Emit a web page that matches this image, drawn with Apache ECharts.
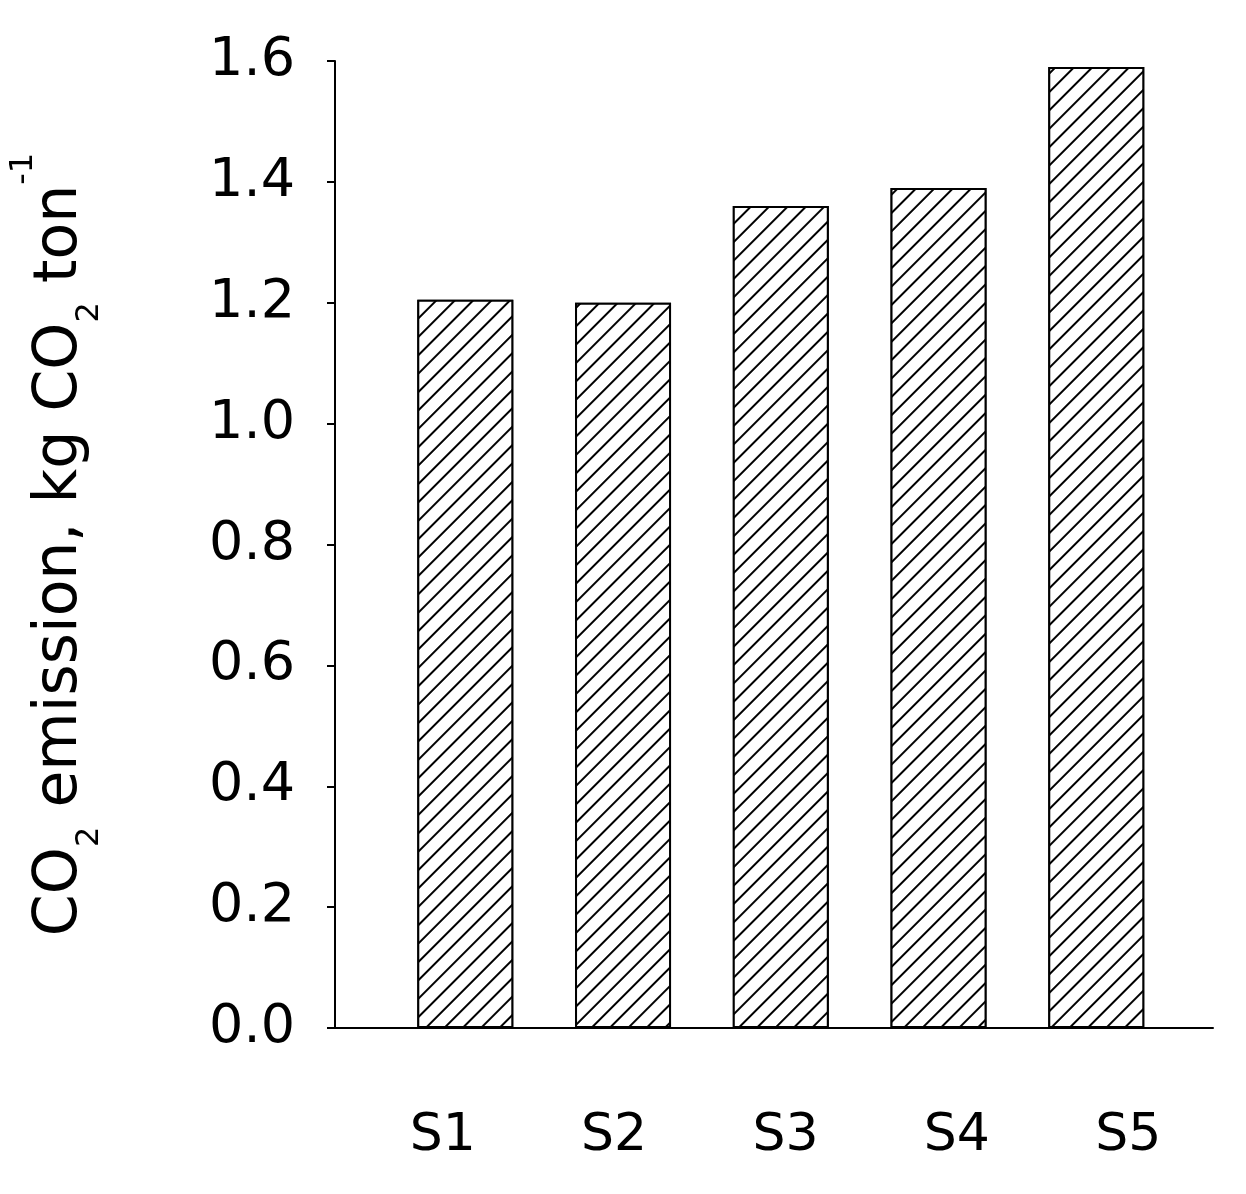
<!DOCTYPE html><html><head><meta charset="utf-8"><script src="https://cdn.jsdelivr.net/npm/echarts@6/dist/echarts.min.js"></script></head><body style="margin:0;background:#fff"><div id="c" style="width:1246px;height:1194px"></div><script>
const categories=['S1','S2','S3','S4','S5'];
const values=[1.205,1.20,1.36,1.39,1.59];
const yTicks=[0,0.2,0.4,0.6,0.8,1.0,1.2,1.4,1.6];
const ch=echarts.init(document.getElementById('c'));
const font='DejaVu Sans';
ch.setOption({
 animation:false,
 grid:[{left:316,right:33,top:61,bottom:166},{left:357,right:32,top:61,bottom:166}],
 xAxis:[{type:'value',gridIndex:0,min:0.174,max:5.74,axisLine:{show:true,lineStyle:{color:'#000',width:2}},axisTick:{show:false},axisLabel:{show:false},splitLine:{show:false}},
  {type:'category',gridIndex:1,data:categories,axisLine:{show:false},axisTick:{show:false},splitLine:{show:false},
   axisLabel:{margin:82,fontFamily:font,fontSize:52,color:'#000'}}],
 yAxis:[{type:'value',gridIndex:0,min:0,max:1.6,interval:0.2,
  axisLine:{show:true,lineStyle:{color:'#000',width:2}},axisTick:{show:true,length:8,lineStyle:{color:'#000',width:2}},
  splitLine:{show:false},
  axisLabel:{margin:40,fontFamily:font,fontSize:54,color:'#000',formatter:v=>v.toFixed(1)},
  name:'CO{sub|2} emission, kg CO{sub|2} ton{sup|-1}',nameLocation:'middle',nameRotate:90,nameGap:245,
  nameTextStyle:{fontFamily:font,fontSize:60,color:'#000',rich:{sub:{fontFamily:font,fontSize:32,color:'#000',verticalAlign:'bottom',padding:[0,0,-16,0]},sup:{fontFamily:font,fontSize:32,color:'#000',verticalAlign:'top',padding:[-22,0,0,0]}}}},
  {type:'value',gridIndex:1,min:0,max:1.6,show:false}],
 series:[{type:'bar',xAxisIndex:0,yAxisIndex:0,barWidth:96,data:values.map((v,i)=>[i+1,v]),
  itemStyle:{color:'#fff',borderColor:'#000',borderWidth:2,
   decal:{symbol:'rect',symbolSize:1,color:'#000',backgroundColor:'#fff',dashArrayX:[1,0],dashArrayY:[1.5,11],rotation:-Math.PI/4}}}]
});
</script></body></html>
